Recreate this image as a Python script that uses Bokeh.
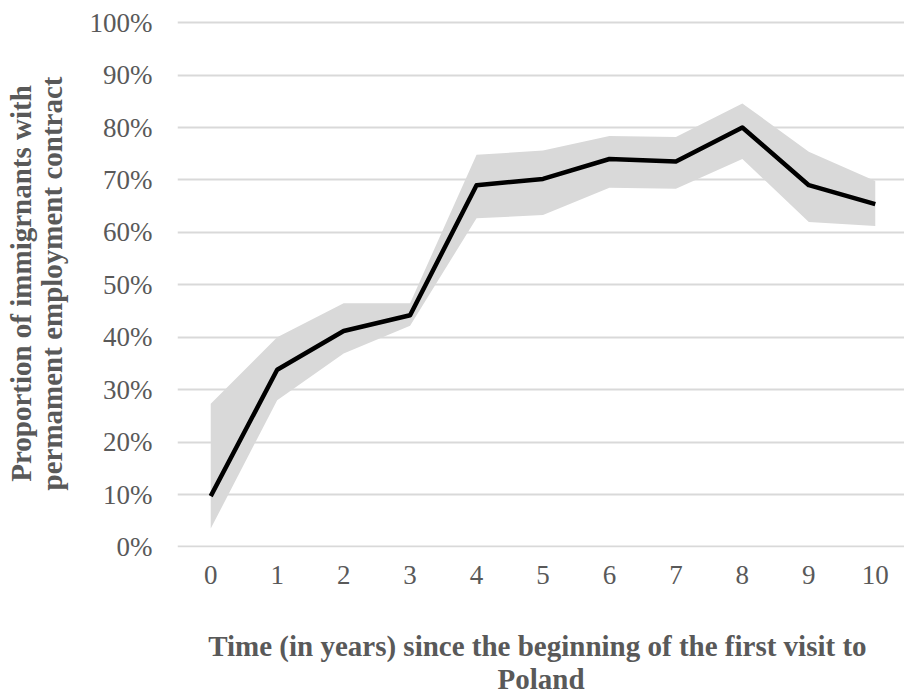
from bokeh.plotting import figure
from bokeh.models import Range1d, FixedTicker, ColumnDataSource
from bokeh.embed import file_html
from bokeh.resources import INLINE

# ---- data (percent) ----
years = [0, 1, 2, 3, 4, 5, 6, 7, 8, 9, 10]
share = [9.7, 33.8, 41.2, 44.2, 69.0, 70.2, 74.0, 73.5, 80.0, 69.0, 65.4]
upper = [27.3, 40.0, 46.5, 46.5, 74.8, 75.6, 78.4, 78.2, 84.6, 75.4, 69.8]
lower = [3.5, 28.0, 36.9, 42.2, 62.7, 63.3, 68.5, 68.3, 74.0, 62.0, 61.2]
y_ticks = [0, 10, 20, 30, 40, 50, 60, 70, 80, 90, 100]
y_tick_labels = ["0%", "10%", "20%", "30%", "40%", "50%", "60%", "70%", "80%", "90%", "100%"]
x_tick_labels = [str(v) for v in years]

x_title = "Time (in years) since the beginning of the first visit  to\nPoland"
y_title = "Proportion of immigrnants with\npermament employment contract"

src = ColumnDataSource(dict(x=years, y=share, lo=lower, hi=upper))

FONT = "Liberation Serif"
GREY = "#595959"

p = figure(width=904, height=699, output_backend="svg", toolbar_location=None,
           x_range=Range1d(-0.5, 10.44), y_range=Range1d(-0.1, 100.6),
           min_border_left=177, min_border_right=0, min_border_top=19, min_border_bottom=152)
p.outline_line_color = None
p.background_fill_color = "white"
p.border_fill_color = "white"

p.varea(x="x", y1="lo", y2="hi", source=src, fill_color="#d9d9d9", fill_alpha=1.0)
p.line(x="x", y="y", source=src, line_color="black", line_width=4.5, line_join="round")

p.xgrid.visible = False
p.ygrid.grid_line_color = "#d9d9d9"
p.ygrid.grid_line_width = 2
p.ygrid.ticker = FixedTicker(ticks=y_ticks)

# y axis
ya = p.yaxis[0]
ya.ticker = FixedTicker(ticks=y_ticks)
ya.major_label_overrides = {t: l for t, l in zip(y_ticks, y_tick_labels)}
ya.axis_line_color = None
ya.major_tick_line_color = None
ya.minor_tick_line_color = None
ya.major_tick_out = 0
ya.major_label_standoff = 25
ya.major_label_text_font = FONT
ya.major_label_text_font_size = "27px"
ya.major_label_text_color = GREY
ya.axis_label = y_title
ya.axis_label_text_font = FONT
ya.axis_label_text_font_style = "bold"
ya.axis_label_text_font_size = "29px"
ya.axis_label_text_color = GREY
ya.axis_label_standoff = 19
ya.axis_label_text_line_height = 0.95

# x axis
xa = p.xaxis[0]
xa.ticker = FixedTicker(ticks=years)
xa.major_label_overrides = {t: l for t, l in zip(years, x_tick_labels)}
xa.axis_line_color = None
xa.major_tick_line_color = None
xa.minor_tick_line_color = None
xa.major_tick_out = 0
xa.major_label_standoff = 18
xa.major_label_text_font = FONT
xa.major_label_text_font_size = "27px"
xa.major_label_text_color = GREY
xa.axis_label = x_title
xa.axis_label_text_font = FONT
xa.axis_label_text_font_style = "bold"
xa.axis_label_text_font_size = "29px"
xa.axis_label_text_color = GREY
xa.axis_label_standoff = 43
xa.axis_label_text_line_height = 1.05

open("out.html", "w").write(file_html(p, INLINE))
